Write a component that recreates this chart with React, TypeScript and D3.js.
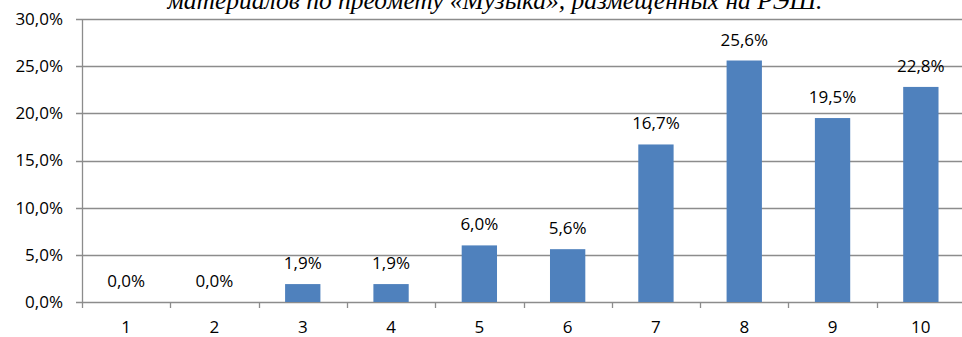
import React from "react";
import * as d3 from "d3";

const categories = ["1", "2", "3", "4", "5", "6", "7", "8", "9", "10"];
const values = [0.0, 0.0, 1.9, 1.9, 6.0, 5.6, 16.7, 25.6, 19.5, 22.8];
const yTicks = [0, 5, 10, 15, 20, 25, 30];
const titleText = "материалов по предмету «Музыка», размещенных на РЭШ.";

const W = 962;
const H = 337;
const left = 82;
const right = 965;
const top = 19;
const bottom = 302;
const font = "'Open Sans', sans-serif";
const fmt = (v: number) => v.toFixed(1).replace(".", ",") + "%";

export default function App() {
  const x = d3.scaleBand<string>().domain(categories).range([left, right]).paddingInner(0.6).paddingOuter(0.3);
  const xb = d3.scaleBand<string>().domain(categories).range([left, right]);
  const y = d3.scaleLinear().domain([0, 30]).range([bottom, top]);
  const grid = "#8c8c8c";
  return (
    <svg width={W} height={H} style={{ position: "absolute", left: 0, top: 0, background: "#fff" }}>
      <text x={495} y={9} textAnchor="middle" fontFamily="'Liberation Serif', 'Times New Roman', serif" fontStyle="italic" fontSize={25.5} fill="#000">
        {titleText}
      </text>
      {yTicks.map((t) => (
        <g key={t}>
          <line x1={left - 6} x2={W} y1={Math.round(y(t)) + 0.5} y2={Math.round(y(t)) + 0.5} stroke={grid} strokeWidth={1.3} />
          <text x={63} y={y(t)} dy="0.35em" textAnchor="end" fontFamily={font} fontSize={17} fill="#000">
            {fmt(t)}
          </text>
        </g>
      ))}
      <line x1={left + 0.5} x2={left + 0.5} y1={top} y2={bottom} stroke={grid} strokeWidth={1.3} />
      {categories.map((c, i) => (
        <g key={c}>
          <line x1={Math.round(xb(c)!) + 0.5} x2={Math.round(xb(c)!) + 0.5} y1={bottom} y2={bottom + 6} stroke={grid} strokeWidth={1.3} />
          <rect x={x(c)!} y={y(values[i])} width={x.bandwidth()} height={bottom - y(values[i])} fill="#4F81BD" />
          <text x={xb(c)! + xb.bandwidth() / 2} y={y(values[i]) - 15} textAnchor="middle" fontFamily={font} fontSize={17} fill="#000">
            {fmt(values[i])}
          </text>
          <text x={xb(c)! + xb.bandwidth() / 2} y={333} textAnchor="middle" fontFamily={font} fontSize={17} fill="#000">
            {c}
          </text>
        </g>
      ))}
    </svg>
  );
}
